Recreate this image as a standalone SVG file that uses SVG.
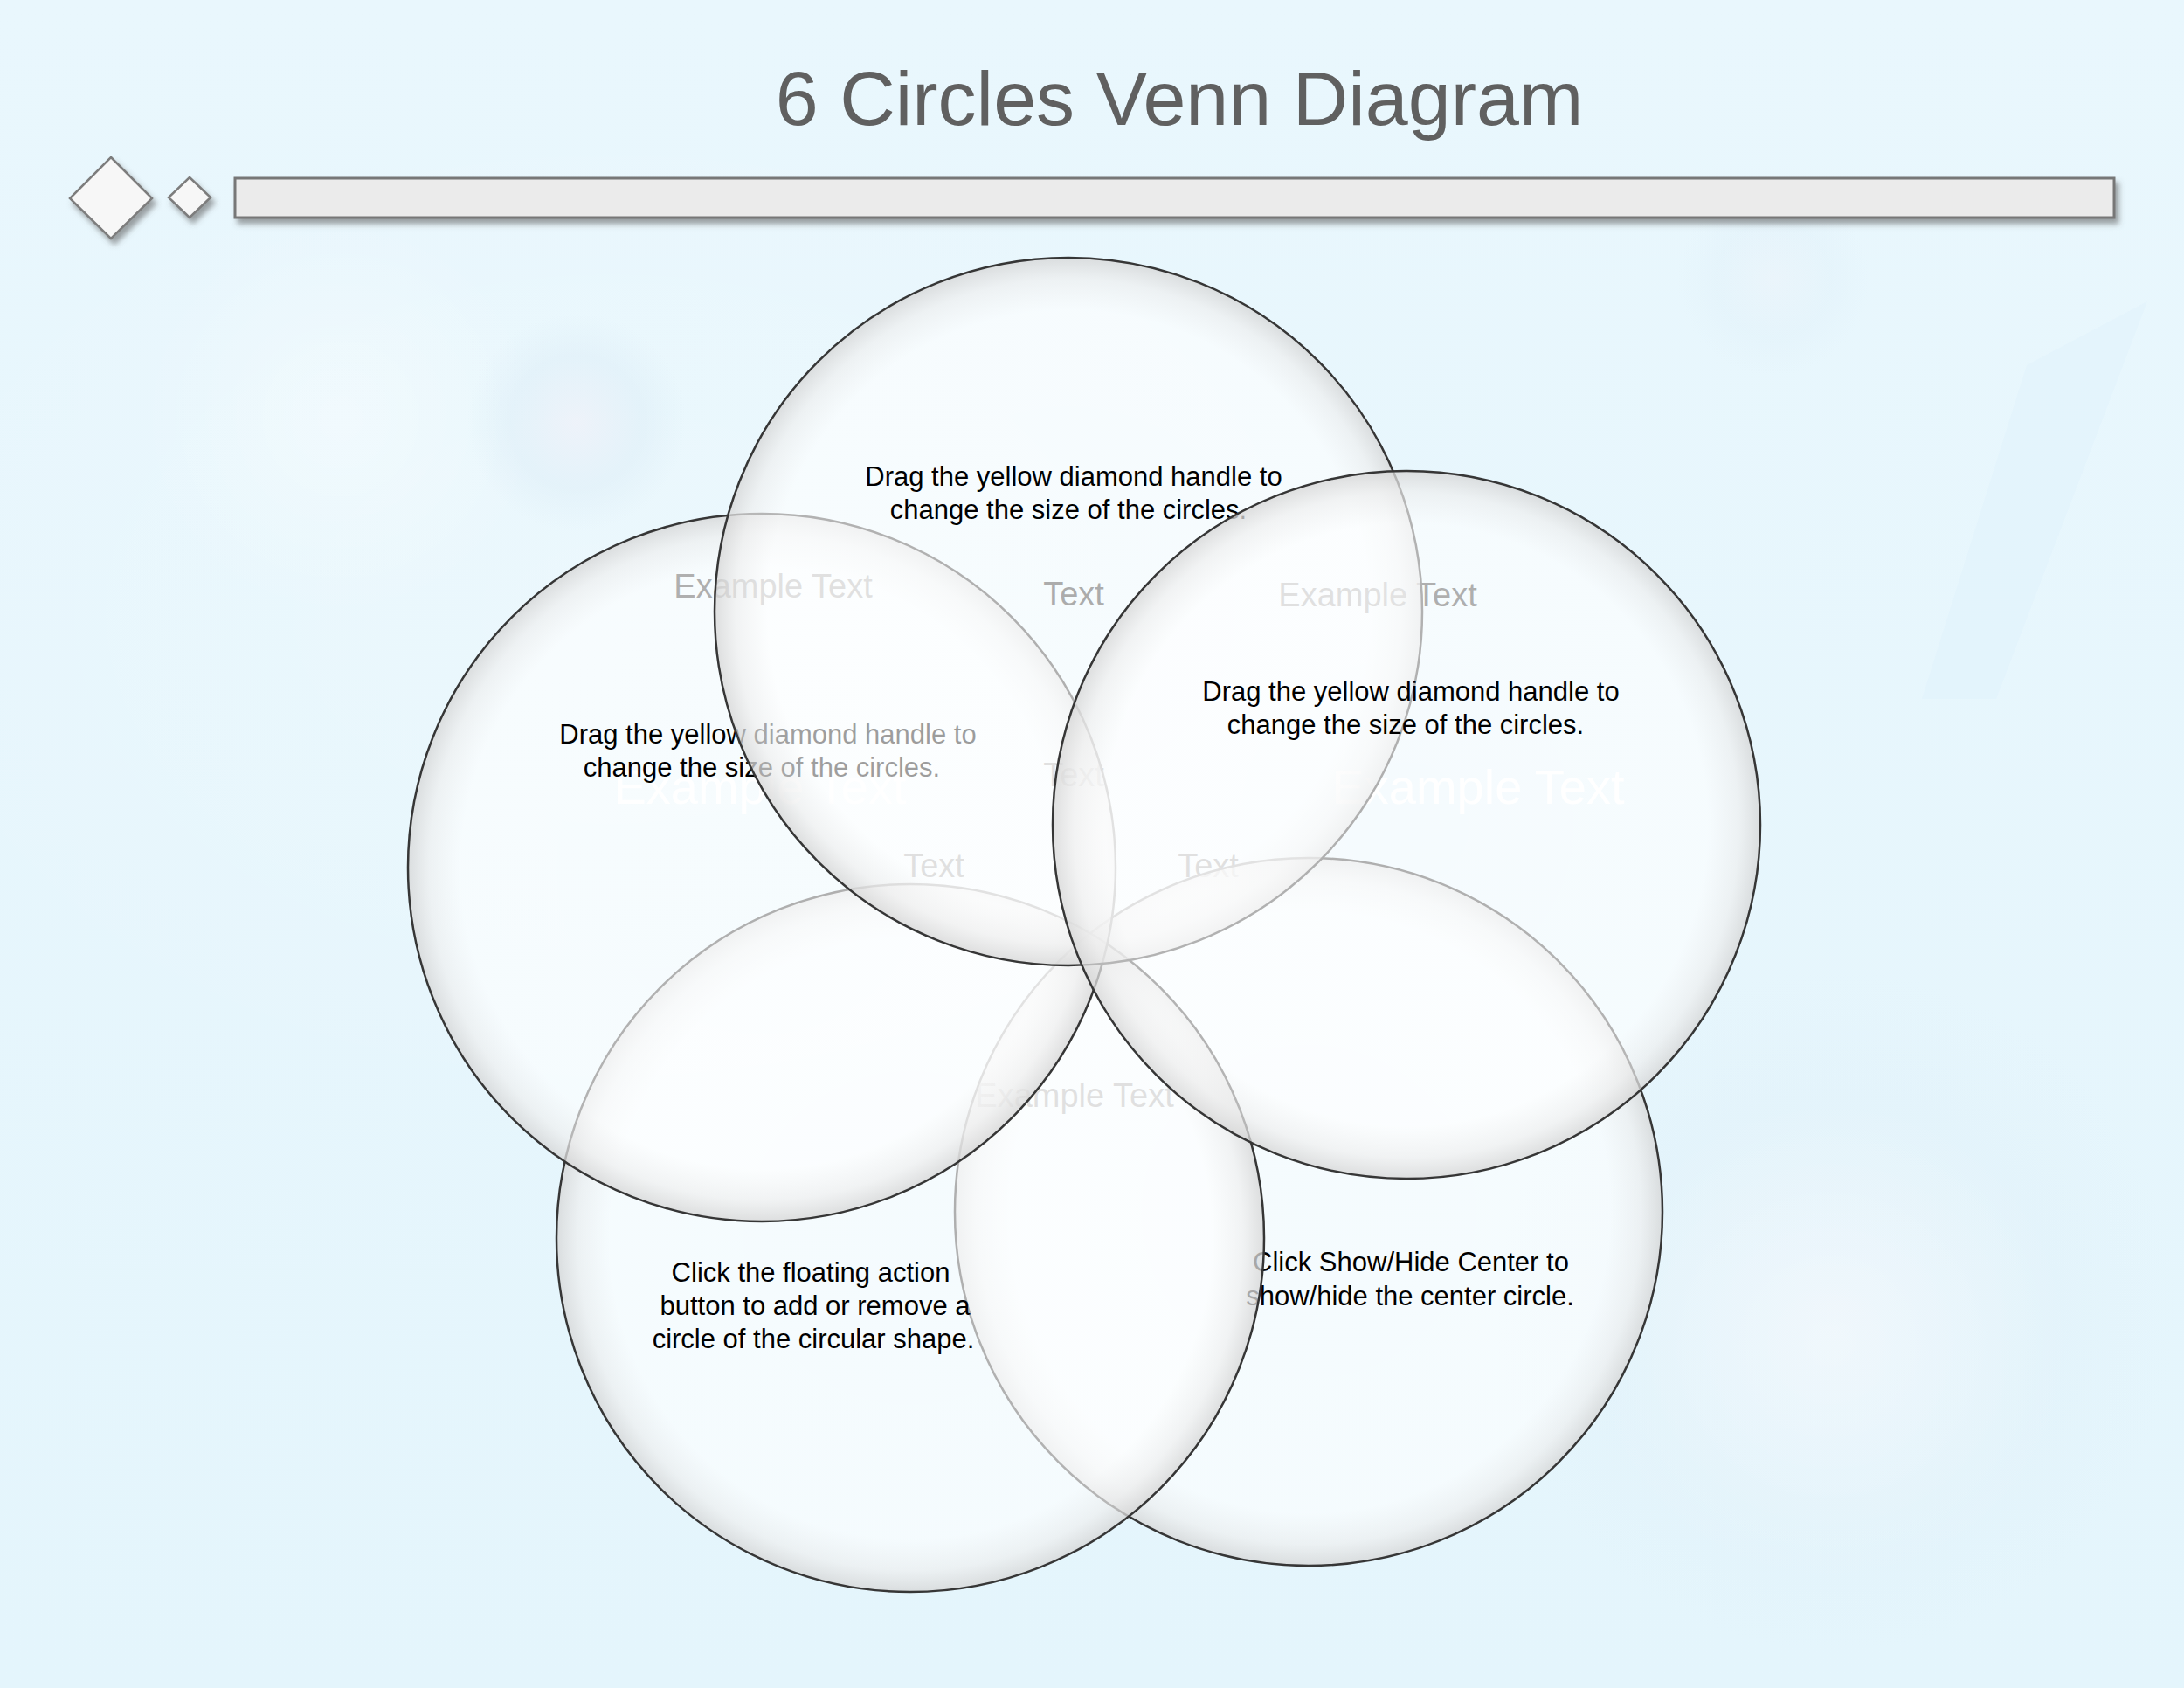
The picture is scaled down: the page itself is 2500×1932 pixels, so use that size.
<svg xmlns="http://www.w3.org/2000/svg" width="2500" height="1932" viewBox="0 0 2500 1932">
<defs>
<style>
.t{font-family:"Liberation Sans",Arial,sans-serif;font-size:31px;fill:#000;text-anchor:middle}
.lbl{font-family:"Liberation Sans",Arial,sans-serif;font-size:38px;fill:#2e2e2e;text-anchor:middle}
.wlbl{font-family:"Liberation Sans",Arial,sans-serif;font-size:56px;fill:#ffffff;text-anchor:middle}
.ring{fill:url(#bubble);stroke:#363636;stroke-width:2.5}
.title{font-family:"Liberation Sans",Arial,sans-serif;font-size:88px;fill:#606060;text-anchor:middle}
</style>
<linearGradient id="bg" x1="0" y1="0" x2="0" y2="1">
<stop offset="0" stop-color="#e9f7fd"/>
<stop offset="1" stop-color="#e4f5fc"/>
</linearGradient>
<radialGradient id="bubble" cx="0.5" cy="0.5" r="0.5">
<stop offset="0" stop-color="#ffffff" stop-opacity="0.6"/>
<stop offset="0.85" stop-color="#ffffff" stop-opacity="0.62"/>
<stop offset="0.94" stop-color="#efefef" stop-opacity="0.7"/>
<stop offset="1" stop-color="#d6d6d6" stop-opacity="0.78"/>
</radialGradient>
<radialGradient id="glowLight" cx="0.5" cy="0.5" r="0.5">
<stop offset="0" stop-color="#ffffff" stop-opacity="0.35"/>
<stop offset="1" stop-color="#ffffff" stop-opacity="0"/>
</radialGradient>
<radialGradient id="glowRing" cx="0.5" cy="0.5" r="0.5">
<stop offset="0" stop-color="#f1eef6" stop-opacity="0.5"/>
<stop offset="0.6" stop-color="#dcecf6" stop-opacity="0.45"/>
<stop offset="1" stop-color="#dcecf6" stop-opacity="0"/>
</radialGradient>
<filter id="shadow" x="-20%" y="-30%" width="140%" height="180%">
<feDropShadow dx="4" dy="6" stdDeviation="3" flood-color="#555555" flood-opacity="0.55"/>
</filter>
</defs>

<g id="background">
<rect x="0" y="0" width="2500" height="1932" fill="url(#bg)"/>
<ellipse cx="700" cy="700" rx="900" ry="600" fill="url(#glowLight)" opacity="0.5"/>
<circle cx="390" cy="479" r="230" fill="url(#glowLight)"/>
<circle cx="660" cy="483" r="125" fill="url(#glowRing)"/>
<circle cx="2030" cy="320" r="110" fill="url(#glowRing)" opacity="0.5"/>
<circle cx="2100" cy="1500" r="390" fill="url(#glowRing)" opacity="0.5"/>
<circle cx="2095" cy="1535" r="280" fill="url(#glowLight)"/>
<polygon points="2458,345 2320,418 2200,800 2285,800" fill="#dcf0fb" opacity="0.3"/>
</g>

<g id="title">
<text class="title" x="1350" y="143">6 Circles Venn Diagram</text>
</g>

<g id="header-decor" filter="url(#shadow)">
<polygon points="127,180 174,227 127,273 80,227" fill="#f7f7f7" stroke="#7d7d7d" stroke-width="2.5"/>
<polygon points="217,203 241,226 217,249 193,226" fill="#f7f7f7" stroke="#7d7d7d" stroke-width="2.5"/>
<rect x="269" y="204" width="2151" height="45" fill="#ebebeb" stroke="#777777" stroke-width="3"/>
</g>

<g id="region-labels">
<text class="wlbl" x="870" y="920">Example Text</text>
<text class="wlbl" x="1692" y="920">Example Text</text>
<text class="lbl" x="885" y="684">Example Text</text>
<text class="lbl" x="1229" y="693">Text</text>
<text class="lbl" x="1577" y="694">Example Text</text>
<text class="lbl" x="1229" y="900">Text</text>
<text class="lbl" x="1069" y="1004">Text</text>
<text class="lbl" x="1383" y="1004">Text</text>
<text class="lbl" x="1230" y="1267">Example Text</text>
</g>

<g id="circle-bottom-right">
<circle class="ring" cx="1498" cy="1387" r="405"/>
<text class="t" x="1615" y="1455">Click Show/Hide Center to</text>
<text class="t" x="1614" y="1494">show/hide the center circle.</text>
</g>

<g id="circle-bottom-left">
<circle class="ring" cx="1042" cy="1417" r="405"/>
<text class="t" x="928" y="1467">Click the floating action</text>
<text class="t" x="933" y="1505">button to add or remove a</text>
<text class="t" x="931" y="1543">circle of the circular shape.</text>
</g>

<g id="circle-left">
<circle class="ring" cx="872" cy="993" r="405"/>
<text class="t" x="879" y="851">Drag the yellow diamond handle to</text>
<text class="t" x="872" y="889">change the size of the circles.</text>
</g>

<g id="circle-top">
<circle class="ring" cx="1223" cy="700" r="405"/>
<text class="t" x="1229" y="556">Drag the yellow diamond handle to</text>
<text class="t" x="1223" y="594">change the size of the circles.</text>
</g>

<g id="circle-right">
<circle class="ring" cx="1610" cy="944" r="405"/>
<text class="t" x="1615" y="802">Drag the yellow diamond handle to</text>
<text class="t" x="1609" y="840">change the size of the circles.</text>
</g>

<g id="connectors"/>
</svg>
